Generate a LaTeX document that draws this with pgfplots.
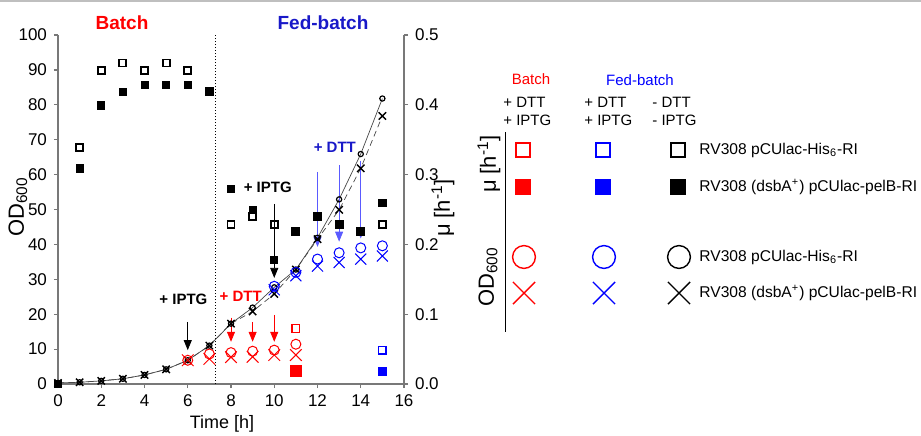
\documentclass[border=0pt]{standalone}
\usepackage{pgfplots}
\pgfplotsset{compat=1.18}
\usepackage{fontspec}
\setmainfont{Liberation Sans}
\usetikzlibrary{arrows.meta}
\definecolor{myred}{RGB}{255,0,0}
\definecolor{myblue}{RGB}{0,0,255}
\definecolor{titleblue}{RGB}{25,25,200}
\definecolor{arrblue}{RGB}{90,90,255}
\definecolor{axgray}{RGB}{120,120,120}
\definecolor{lngray}{RGB}{70,70,70}
\begin{document}
\begin{tikzpicture}
\path[use as bounding box] (0,0) rectangle (460.5pt,217.5pt);
\draw[gray!50, line width=1pt] (0,217pt) -- (460.5pt,217pt);
% ---------------- OD axis ----------------
\begin{axis}[
  at={(29pt,25.5pt)}, anchor=south west,
  width=173pt, height=174.5pt, scale only axis,
  xmin=0, xmax=16, ymin=0, ymax=100,
  xtick={0,2,...,16}, ytick={0,10,...,100},
  axis x line*=bottom, axis y line*=left,
  axis line style={axgray, line width=0.6pt},
  tick align=outside, major tick length=2pt,
  tick style={axgray, line width=0.6pt},
  tick label style={font=\fontsize{8.5}{10}\selectfont},
  /pgf/number format/assume math mode=true,
  clip=false,
]
% phase separator
\draw[densely dotted, black, line width=0.5pt] (axis cs:7.3,0) -- (axis cs:7.3,100);
% black OD series with lines
\addplot[lngray, line width=0.35pt, mark=o, mark size=1.3pt, mark options={black, solid, line width=0.6pt}]
  coordinates {(0,0.3)(1,0.5)(2,0.9)(3,1.5)(4,2.6)(5,4.2)(6,6.8)(7,11)(8,17.3)(9,21.9)(10,27.7)(11,32.8)(12,41.9)(13,52.9)(14,65.9)(15,81.8)};
\addplot[lngray, line width=0.35pt, densely dashed, mark=x, mark size=2.6pt, mark options={black, solid, line width=0.7pt}]
  coordinates {(0,0.3)(1,0.5)(2,0.9)(3,1.5)(4,2.6)(5,4.2)(6,6.8)(7,11)(8,17.3)(9,20.8)(10,25.8)(11,32.8)(12,41.5)(13,49.9)(14,61.8)(15,76.8)};
% red OD (batch + DTT + IPTG)
\addplot[only marks, mark=o, mark size=2.5pt, myred, mark options={line width=0.5pt}]
  coordinates {(6,6.8)(7,8.6)(8,9)(9,9.4)(10,9.7)(11,11.4)};
\addplot[only marks, mark=x, mark size=4.1pt, myred, mark options={line width=0.5pt}]
  coordinates {(6,6.8)(7,7.2)(8,7.7)(9,7.8)(10,8.3)(11,8.3)};
% blue OD (fed-batch + DTT + IPTG)
\addplot[only marks, mark=o, mark size=2.5pt, myblue, mark options={line width=0.5pt}]
  coordinates {(10,28)(11,32)(12,35.8)(13,37.6)(14,39)(15,39.6)};
\addplot[only marks, mark=x, mark size=3.9pt, myblue, mark options={line width=0.5pt}]
  coordinates {(10,27)(11,31)(12,33.8)(13,34.8)(14,35.8)(15,36.7)};
% arrows
\draw[-{Triangle[length=5pt,width=4pt]}, black, line width=0.4pt] (axis cs:6,17.8) -- (axis cs:6,9.7);
\draw[-{Triangle[length=5pt,width=4pt]}, black, line width=0.4pt] (axis cs:10,51.6) -- (axis cs:10,30.4);
\draw[-{Triangle[length=5pt,width=4pt]}, myred, line width=0.4pt] (axis cs:8,19) -- (axis cs:8,12.1);
\draw[-{Triangle[length=5pt,width=4pt]}, myred, line width=0.4pt] (axis cs:9,17.8) -- (axis cs:9,12.1);
\draw[-{Triangle[length=5pt,width=4pt]}, myred, line width=0.4pt] (axis cs:10,19.8) -- (axis cs:10,12.1);
\draw[-{Triangle[length=5pt,width=4pt]}, arrblue, line width=0.4pt] (axis cs:12,60.8) -- (axis cs:12,39.3);
\draw[-{Triangle[length=5pt,width=4pt]}, arrblue, line width=0.4pt] (axis cs:13,62.7) -- (axis cs:13,40.8);
\draw[-{Triangle[length=5pt,width=4pt]}, arrblue, line width=0.4pt] (axis cs:14,63.9) -- (axis cs:14,41.7);
% annotations
\node[font=\bfseries\fontsize{7.5}{9}\selectfont, black] at (axis cs:5.8,24.4) {+ IPTG};
\node[font=\bfseries\fontsize{7.5}{9}\selectfont, black] at (axis cs:9.7,56.4) {+ IPTG};
\node[font=\bfseries\fontsize{7.5}{9}\selectfont, myred] at (axis cs:8.45,25) {+ DTT};
\node[font=\bfseries\fontsize{7.5}{9}\selectfont, titleblue] at (axis cs:12.8,67.7) {+ DTT};
\end{axis}
% ---------------- mu axis ----------------
\begin{axis}[
  at={(29pt,25.5pt)}, anchor=south west,
  width=173pt, height=174.5pt, scale only axis,
  xmin=0, xmax=16, ymin=0, ymax=0.5,
  axis x line=none, axis y line*=right,
  ytick={0,0.1,0.2,0.3,0.4,0.5},
  yticklabel style={/pgf/number format/.cd, fixed, fixed zerofill, precision=1},
  axis line style={axgray, line width=0.6pt},
  tick align=outside, major tick length=2pt,
  tick style={axgray, line width=0.6pt},
  tick label style={font=\fontsize{8.5}{10}\selectfont},
  /pgf/number format/assume math mode=true,
  clip=false,
]
% black squares: RV308 (dsbA+) pCUlac-pelB-RI (filled)
\addplot[only marks, mark=square*, mark size=1.8pt, black]
  coordinates {(0,0)(1,0.309)(2,0.399)(3,0.419)(4,0.429)(5,0.429)(6,0.429)(7,0.419)(8,0.28)(9,0.25)(10,0.178)(11,0.219)(12,0.24)(13,0.229)(14,0.219)(15,0.259)};
% black squares: RV308 pCUlac-His6-RI (open)
\addplot[only marks, mark=square, mark size=1.75pt, black, mark options={line width=0.9pt}]
  coordinates {(0,0)(1,0.3385)(2,0.449)(3,0.46)(4,0.449)(5,0.46)(6,0.449)(7,0.419)(8,0.229)(9,0.24)(10,0.229)(11,0.219)(12,0.24)(13,0.229)(14,0.219)(15,0.229)};
% red
\addplot[only marks, mark=square, mark size=1.9pt, myred, mark options={line width=0.7pt}] coordinates {(11,0.0795)};
\addplot[only marks, mark=square*, mark size=2.8pt, myred] coordinates {(11,0.0185)};
% blue
\addplot[only marks, mark=square, mark size=1.9pt, myblue, mark options={line width=0.7pt}] coordinates {(15,0.0485)};
\addplot[only marks, mark=square*, mark size=2.05pt, myblue] coordinates {(15,0.0185)};
\end{axis}
% ---------------- overlay (pixel units) ----------------
\begin{axis}[
  at={(0pt,0pt)}, anchor=south west,
  width=460.5pt, height=217.5pt, scale only axis,
  xmin=0, xmax=921, ymin=0, ymax=435, y dir=reverse,
  hide axis, clip=false,
]
% titles and axis labels
\node[font=\bfseries\fontsize{9.5}{11}\selectfont, myred] at (axis cs:122,23) {Batch};
\node[font=\bfseries\fontsize{9.5}{11}\selectfont, titleblue] at (axis cs:323,23) {Fed-batch};
\node[font=\fontsize{11}{13}\selectfont, rotate=90] at (axis cs:18,207) {OD\textsubscript{600}};
\node[font=\fontsize{9}{11}\selectfont] at (axis cs:222,424) {Time [h]};
\node[font=\fontsize{11}{13}\selectfont, rotate=90] at (axis cs:443,208) {μ [h\textsuperscript{-1}]};
% legend
\draw[black, line width=0.5pt] (axis cs:505,132) -- (axis cs:505,332);
\node[font=\fontsize{11}{13}\selectfont, rotate=90] at (axis cs:489,164) {μ [h\textsuperscript{-1}]};
\node[font=\fontsize{11}{13}\selectfont, rotate=90] at (axis cs:488,277) {OD\textsubscript{600}};
\node[font=\fontsize{7.5}{9}\selectfont, myred] at (axis cs:531,79) {Batch};
\node[font=\fontsize{7.5}{9}\selectfont, myblue] at (axis cs:640,80) {Fed-batch};
\node[font=\fontsize{7.5}{9}\selectfont, anchor=west, inner xsep=0pt] at (axis cs:503,102) {+ DTT};
\node[font=\fontsize{7.5}{9}\selectfont, anchor=west, inner xsep=0pt] at (axis cs:503,120) {+ IPTG};
\node[font=\fontsize{7.5}{9}\selectfont, anchor=west, inner xsep=0pt] at (axis cs:584,102) {+ DTT};
\node[font=\fontsize{7.5}{9}\selectfont, anchor=west, inner xsep=0pt] at (axis cs:584,120) {+ IPTG};
\node[font=\fontsize{7.5}{9}\selectfont, anchor=west, inner xsep=0pt] at (axis cs:652,102) {- DTT};
\node[font=\fontsize{7.5}{9}\selectfont, anchor=west, inner xsep=0pt] at (axis cs:652,120) {- IPTG};
\addplot[only marks, mark=square, mark size=3.5pt, myred, mark options={line width=0.8pt}] coordinates {(523,150)};
\addplot[only marks, mark=square*, mark size=3.7pt, myred] coordinates {(523,187)};
\addplot[only marks, mark=square, mark size=3.5pt, myblue, mark options={line width=0.8pt}] coordinates {(603,150)};
\addplot[only marks, mark=square*, mark size=3.7pt, myblue] coordinates {(603,187)};
\addplot[only marks, mark=square, mark size=3.5pt, black, mark options={line width=0.8pt}] coordinates {(678,150)};
\addplot[only marks, mark=square*, mark size=3.7pt, black] coordinates {(678,187)};
\addplot[only marks, mark=o, mark size=5.7pt, myred, mark options={line width=0.7pt}] coordinates {(524,257)};
\addplot[only marks, mark=o, mark size=5.7pt, myblue, mark options={line width=0.7pt}] coordinates {(604,257)};
\addplot[only marks, mark=o, mark size=5.7pt, black, mark options={line width=0.7pt}] coordinates {(679,257)};
\addplot[only marks, mark=x, mark size=7.8pt, myred, mark options={line width=0.7pt}] coordinates {(524,293)};
\addplot[only marks, mark=x, mark size=7.8pt, myblue, mark options={line width=0.7pt}] coordinates {(604,293)};
\addplot[only marks, mark=x, mark size=7.8pt, black, mark options={line width=0.7pt}] coordinates {(679,293)};
\node[font=\fontsize{7.8}{9}\selectfont, anchor=west, inner xsep=0pt] at (axis cs:699,150) {RV308 pCUlac-His\textsubscript{6}-RI};
\node[font=\fontsize{7.8}{9}\selectfont, anchor=west, inner xsep=0pt] at (axis cs:699,187) {RV308 (dsbA\textsuperscript{+}) pCUlac-pelB-RI};
\node[font=\fontsize{7.8}{9}\selectfont, anchor=west, inner xsep=0pt] at (axis cs:699,257) {RV308 pCUlac-His\textsubscript{6}-RI};
\node[font=\fontsize{7.8}{9}\selectfont, anchor=west, inner xsep=0pt] at (axis cs:699,293) {RV308 (dsbA\textsuperscript{+}) pCUlac-pelB-RI};
\end{axis}
\end{tikzpicture}
\end{document}
